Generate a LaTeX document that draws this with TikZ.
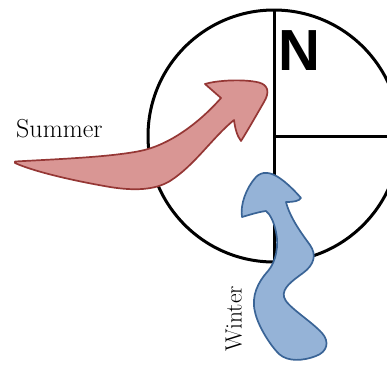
\documentclass[tikz,border=0pt]{standalone}
\usepackage{fontspec}
\newfontfamily\nfont{Liberation Sans}
\definecolor{redfill}{HTML}{D99694}
\definecolor{redline}{HTML}{953735}
\definecolor{bluefill}{HTML}{95B3D7}
\definecolor{blueline}{HTML}{3A6496}
\tikzset{
  compass/.style={line width=3pt, black},
  summerarrow/.style={fill=redfill, draw=redline, line width=1.7pt, line join=round},
  winterarrow/.style={fill=bluefill, draw=blueline, line width=1.7pt, line join=round},
  label/.style={inner sep=0pt, font=\fontsize{26}{30}\selectfont}
}
\begin{document}
\begin{tikzpicture}[x=1pt,y=-1pt]
\useasboundingbox (0,0) rectangle (387,365);
\clip (0,0) rectangle (387,365);
% compass
\coordinate (c) at (274,136);
\coordinate (top) at (274,10);
\coordinate (bot) at (274,262);
\coordinate (east) at (400,136);
\draw[compass] (c) circle[radius=126pt];
\draw[compass] (top) -- (bot);
\draw[compass] (c) -- (east);
\node[inner sep=0pt, anchor=base west, font=\nfont\bfseries\fontsize{58}{58}\selectfont] (N) at (278.5,70) {N};
% summer arrow
\draw[summerarrow]
  (15,161.5) .. controls (60,159) and (110,157) .. (140,151)
  .. controls (170,145) and (200,122) .. (221,98)
  -- (205,84)
  .. controls (218,80) and (245,79) .. (259,82.5)
  .. controls (268,85) and (270,92) .. (264,102)
  .. controls (257,114) and (248,130) .. (241,141)
  .. controls (237,136) and (235,128) .. (234,120)
  .. controls (212,138) and (195,165) .. (170,181)
  .. controls (155,190) and (135,191) .. (110,187)
  .. controls (75,181) and (35,172) .. (15,163)
  -- cycle;
% winter arrow
\draw[winterarrow]
  (242,217) .. controls (240,205) and (246,188) .. (256,177)
  .. controls (262,171) and (270,172) .. (278,177)
  .. controls (286,182) and (295,191) .. (301,198)
  .. controls (299,201) and (294,202) .. (286,202)
  .. controls (290,218) and (302,234) .. (310,245)
  .. controls (317,255) and (314,265) .. (303,273)
  .. controls (292,281) and (282,288) .. (284,297)
  .. controls (286,306) and (310,320) .. (322,333)
  .. controls (330,342) and (327,352) .. (316,356)
  .. controls (303,361) and (288,362) .. (279,354)
  .. controls (270,345) and (258,326) .. (255,312)
  .. controls (251,296) and (258,282) .. (268,271)
  .. controls (276,262) and (279,245) .. (276,232)
  .. controls (274,222) and (270,214) .. (266,211)
  .. controls (258,212) and (249,215) .. (242,217)
  -- cycle;
% labels
\node[label, anchor=base west] (summer) at (16,137) {Summer};
\node[label, anchor=base west, rotate=90, font=\fontsize{23.5}{28}\selectfont] (winter) at (241.5,352) {Winter};
\end{tikzpicture}
\end{document}
